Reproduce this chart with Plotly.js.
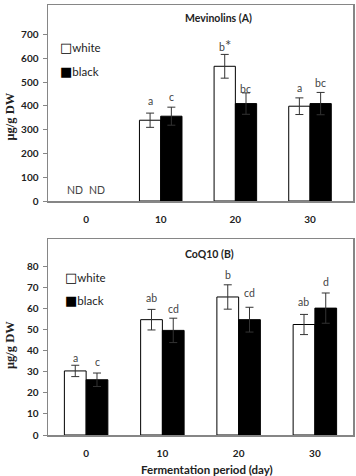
<!DOCTYPE html>
<html>
<head>
<meta charset="utf-8">
<script src="https://cdn.plot.ly/plotly-3.0.1.min.js"></script>
<style>html,body{margin:0;padding:0;background:#fff;}#chart{width:356px;height:476px;}</style>
</head>
<body>
<div id="chart"></div>
<script>
// ---- data ----
const categories = ['0', '10', '20', '30'];
const seriesNames = ['white', 'black'];
// Mevinolins (A), µg/g DW (day 0 not detected)
const mevWhite = [null, 340, 567, 399];
const mevWhiteErr = [null, 30, 50, 35];
const mevBlack = [null, 357, 410, 410];
const mevBlackErr = [null, 38, 45, 47];
const mevWhiteLetters = ['ND', 'a', 'b*', 'a'];
const mevBlackLetters = ['ND', 'c', 'bc', 'bc'];
const mevWhiteLetterY = [48, 423, 658, 474];
const mevBlackLetterY = [48, 436, 473, 497];
// CoQ10 (B), µg/g DW
const coqWhite = [30.5, 54.9, 65.7, 52.6];
const coqWhiteErr = [2.7, 4.9, 5.8, 4.8];
const coqBlack = [26.3, 49.8, 54.9, 60.4];
const coqBlackErr = [3.2, 5.8, 5.9, 7.2];
const coqWhiteLetters = ['a', 'ab', 'b', 'ab'];
const coqBlackLetters = ['c', 'cd', 'cd', 'd'];
const coqWhiteLetterY = [36.5, 65.3, 76.0, 63.2];
const coqBlackLetterY = [34.8, 59.9, 67.5, 72.8];
const mevTicks = [0, 100, 200, 300, 400, 500, 600, 700];
const coqTicks = [0, 10, 20, 30, 40, 50, 60, 70, 80];

const FONT = 'Lato, "Open Sans", sans-serif';
const frame = '#868686';

function barTrace(y, err, name, fill, xa, ya) {
  return {
    type: 'bar', x: categories, y: y, name: name, xaxis: xa, yaxis: ya,
    marker: {color: fill, line: {color: '#000', width: 1}},
    error_y: {type: 'data', array: err, visible: true, color: '#333', thickness: 1, width: 4},
    showlegend: false
  };
}

const traces = [
  barTrace(mevWhite, mevWhiteErr, seriesNames[0], '#fff', 'x2', 'y2'),
  barTrace(mevBlack, mevBlackErr, seriesNames[1], '#000', 'x2', 'y2'),
  barTrace(coqWhite, coqWhiteErr, seriesNames[0], '#fff', 'x', 'y'),
  barTrace(coqBlack, coqBlackErr, seriesNames[1], '#000', 'x', 'y')
];

const annotations = [];
function letters(arr, ys, xa, ya, shift) {
  arr.forEach((t, i) => {
    if (!t) return;
    let txt = t === 'b*' ? "b<span style='font-size:15px'>*</span>" : t;
    annotations.push({text: txt, x: i, y: ys[i], xref: xa, yref: ya,
      xshift: shift, showarrow: false, yanchor: 'middle',
      font: {family: FONT, size: 10.5, color: '#444'}});
  });
}
letters(mevWhiteLetters, mevWhiteLetterY, 'x2', 'y2', -10.6);
letters(mevBlackLetters, mevBlackLetterY, 'x2', 'y2', 10.6);
letters(coqWhiteLetters, coqWhiteLetterY, 'x', 'y', -10.9);
letters(coqBlackLetters, coqBlackLetterY, 'x', 'y', 10.9);

// panel titles
annotations.push({text: '<b>Mevinolins (A)</b>', xref: 'paper', yref: 'y2 domain',
  x: (218.5 - 48) / 305, y: (201 - 18) / 196, showarrow: false, xanchor: 'center', yanchor: 'middle',
  font: {family: FONT, size: 10.5, color: '#222'}});
annotations.push({text: '<b>CoQ10 (B)</b>', xref: 'paper', yref: 'y domain',
  x: (209.5 - 48) / 305, y: (435 - 254) / 196, showarrow: false, xanchor: 'center', yanchor: 'middle',
  font: {family: FONT, size: 10.5, color: '#222'}});

// legends
function legend(ya, xpx, ywhite, yblack, base) {
  [[seriesNames[0], '\u25A1', ywhite], [seriesNames[1], '\u25A0', yblack]].forEach(([n, sym, ypx]) => {
    annotations.push({text: "<span style='font-family:DejaVu Sans;font-size:13px;color:#000'>" + sym + "</span>" + n,
      xref: 'paper', yref: ya, x: (xpx - 48) / 305, y: (base - ypx) / 196,
      xanchor: 'left', yanchor: 'middle', showarrow: false,
      font: {family: FONT, size: 11.5, color: '#222'}});
  });
}
legend('y2 domain', 58, 48, 72, 201);
legend('y domain', 63, 277.7, 300.7, 435);

// y axis titles
const ytitle = {text: '<b>\u03BCg/g DW</b>', textangle: -90, showarrow: false,
  xref: 'paper', x: 0, xshift: -38, xanchor: 'center', yanchor: 'middle',
  font: {family: '"Liberation Serif", "DejaVu Serif", serif', size: 12.5, color: '#222'}};
annotations.push(Object.assign({}, ytitle, {yref: 'y2 domain', y: (201 - 116.5) / 196}));
annotations.push(Object.assign({}, ytitle, {yref: 'y domain', y: (435 - 345) / 196}));

// x axis title
annotations.push({text: '<b>Fermentation period (day)</b>', xref: 'paper', yref: 'paper',
  x: (207 - 48) / 305, y: 0, yshift: -34, xanchor: 'center', yanchor: 'middle', showarrow: false,
  font: {family: FONT, size: 11.5, color: '#222'}});

const xBase = {type: 'category', showline: true, mirror: true, linecolor: frame, linewidth: 1.5,
  ticks: '', showgrid: false, zeroline: false, ticklabelstandoff: 8,
  tickfont: {family: FONT, size: 10, color: '#222', weight: 'bold'}, fixedrange: true};
const yBase = {showline: true, mirror: true, linecolor: frame, linewidth: 1.5,
  ticks: 'outside', ticklen: 4, tickcolor: frame, showgrid: false, zeroline: false,
  tickfont: {family: FONT, size: 10, color: '#222', weight: 'bold'}, ticklabelstandoff: 2, fixedrange: true};

const layout = {
  width: 356, height: 476,
  margin: {l: 48, r: 3, t: 5, b: 41},
  paper_bgcolor: '#fff', plot_bgcolor: '#fff',
  barmode: 'group', bargap: 0.43, bargroupgap: 0,
  showlegend: false,
  xaxis: Object.assign({}, xBase, {anchor: 'y', range: [-0.5, 3.5]}),
  yaxis: Object.assign({}, yBase, {anchor: 'x', domain: [0, 196 / 430], range: [0, 93.3], tickvals: coqTicks}),
  xaxis2: Object.assign({}, xBase, {anchor: 'y2', range: [-0.51, 3.576]}),
  yaxis2: Object.assign({}, yBase, {anchor: 'x2', domain: [234 / 430, 1], range: [0, 825], tickvals: mevTicks}),
  annotations: annotations
};

Plotly.newPlot('chart', traces, layout, {displayModeBar: false, staticPlot: true});
</script>
</body>
</html>
